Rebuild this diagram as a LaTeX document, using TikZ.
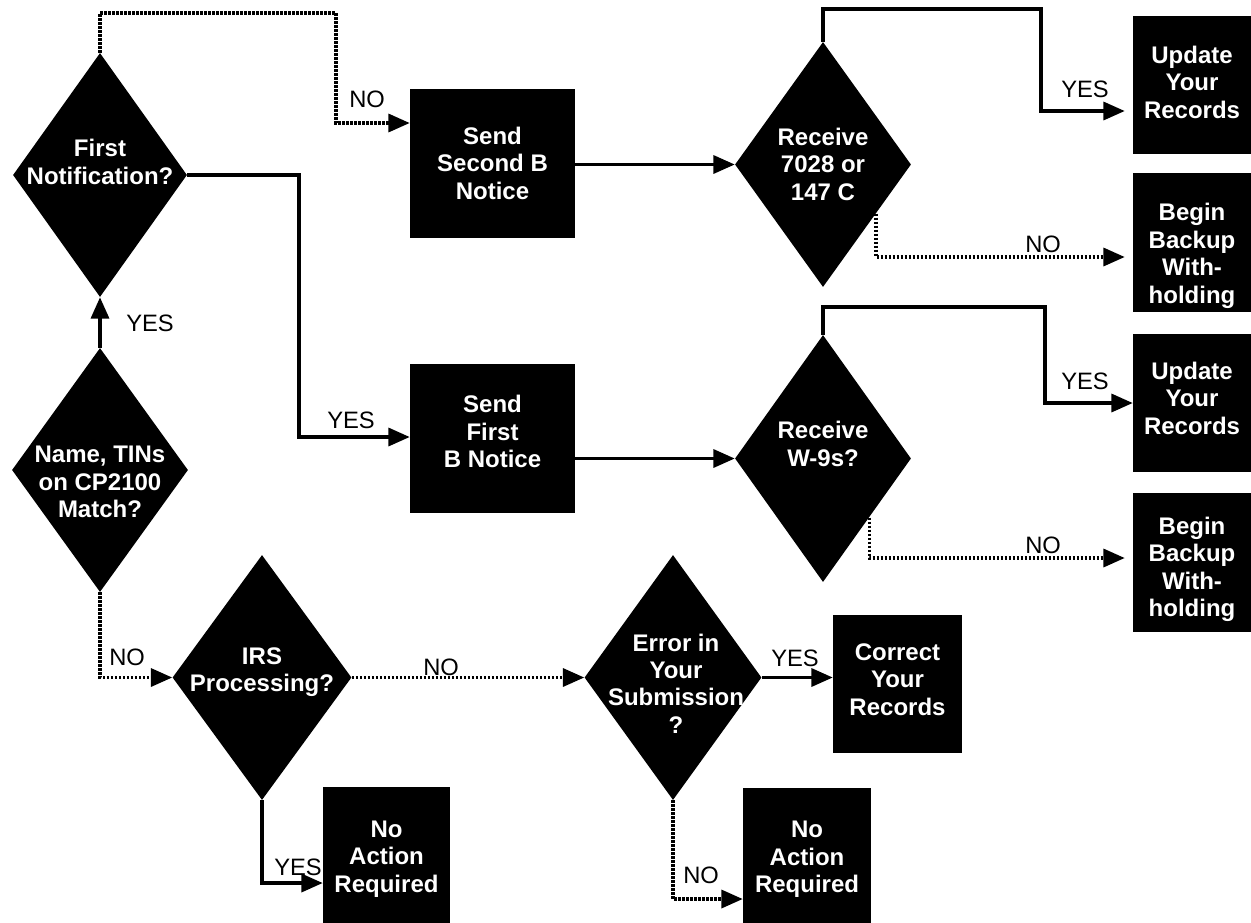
\documentclass[tikz,border=0pt]{standalone}
\usepackage{fontspec}
\setmainfont{Liberation Sans}
\usetikzlibrary{shapes.geometric,arrows.meta,calc}
\begin{document}
\begin{tikzpicture}[x=0.75pt,y=-0.75pt,
  dec/.style={diamond,fill=black,draw=none,inner sep=0pt,aspect=0.7},
  blk/.style={rectangle,fill=black,draw=none,inner sep=0pt},
  txt/.style={text=white,font=\bfseries\fontsize{18}{20.6}\selectfont,align=center,inner sep=0pt},
  lab/.style={font=\fontsize{17.8}{20}\selectfont,inner sep=0pt,anchor=base west},
  conn/.style={line width=2.5pt,line join=miter,-{Triangle[length=16pt,width=13.5pt]}},
  dconn/.style={conn,dash pattern=on 2pt off 1pt}]
\useasboundingbox (0,0) rectangle (1251,922);

% decisions
\node[dec,minimum width=130.5pt,minimum height=183pt] (fn) at (100,175) {};
\node[dec,minimum width=132pt,minimum height=183pt] (nm) at (100,470) {};
\node[dec,minimum width=132pt,minimum height=183.75pt] (r1) at (823,164.5) {};
\node[dec,minimum width=132pt,minimum height=185.25pt] (w9) at (823,458.5) {};
\node[dec,minimum width=134.25pt,minimum height=183.75pt] (irs) at (262,677.5) {};
\node[dec,minimum width=132.75pt,minimum height=183.75pt] (er) at (673,677.5) {};

% boxes
\node[blk,minimum width=123.75pt,minimum height=111.75pt] (sb) at (492.5,163.5) {};
\node[blk,minimum width=123.75pt,minimum height=111.75pt] (fb) at (492.5,438.5) {};
\node[blk,minimum width=88.5pt,minimum height=103.5pt] (up1) at (1192,85) {};
\node[blk,minimum width=88.5pt,minimum height=104.25pt] (bg1) at (1192,242.5) {};
\node[blk,minimum width=88.5pt,minimum height=103.5pt] (up2) at (1192,403) {};
\node[blk,minimum width=88.5pt,minimum height=104.25pt] (bg2) at (1192,562.5) {};
\node[blk,minimum width=96.75pt,minimum height=103.5pt] (cr) at (897.5,684) {};
\node[blk,minimum width=95.25pt,minimum height=107.25pt] (na1) at (386.5,858.5) {};
\node[blk,minimum width=96pt,minimum height=106.5pt] (na2) at (807,859) {};

% texts
\node[txt] (tfn) at (100,162) {First\\Notification?};
\node[txt] (tnm) at (100,482) {Name, TINs\\on CP2100\\Match?};
\node[txt] (tr1) at (823,164) {Receive\\7028 or\\147 C};
\node[txt] (tw9) at (823,444) {Receive\\W-9s?};
\node[txt] (tirs) at (262,672) {IRS\\Processing?};
\node[txt] (ter) at (676,683.5) {Error in\\Your\\Submission\\?};
\node[txt] (tsb) at (492.5,163) {Send\\Second B\\Notice};
\node[txt] (tfb) at (492.5,431.5) {Send\\First\\B Notice};
\node[txt] (tup1) at (1192,82) {Update\\Your\\Records};
\node[txt] (tbg1) at (1192,256) {Begin\\Backup\\With-\\holding};
\node[txt] (tup2) at (1192,398) {Update\\Your\\Records};
\node[txt] (tbg2) at (1192,569.5) {Begin\\Backup\\With-\\holding};
\node[txt] (tcr) at (897.5,679.5) {Correct\\Your\\Records};
\node[txt] (tna1) at (386.5,859) {No\\Action\\Required};
\node[txt] (tna2) at (807,859.5) {No\\Action\\Required};

% bend points
\coordinate (k1) at (336,13);
\coordinate (k2) at (336,123);
\coordinate (k3) at (299,437);
\coordinate (k4) at (1041,9);
\coordinate (k5) at (1041,111);
\coordinate (k6) at (1000,257);
\coordinate (k7) at (1045,307);
\coordinate (k8) at (1045,403);
\coordinate (k9) at (1000,558);
\coordinate (k10) at (0,883);
\coordinate (k11) at (0,899);

% connectors
\draw[dconn] (fn.north) |- (k1) -- (k2) -- (k2 -| sb.west);
\draw[conn] (fn.east) -| (k3) -- (k3 -| fb.west);
\draw[conn] (r1.west -| sb.east) -- (r1.west);
\draw[conn] (w9.west -| fb.east) -- (w9.west);
\draw[conn,shorten >=6pt] (r1.north) |- (k4) -- (k5) -- (k5 -| up1.west);
\draw[dconn,shorten >=6pt] ($(r1.east)!0.4!(r1.south)$) |- (k6 -| bg1.west);
\draw[conn] (w9.north) |- (k7) -- (k8) -- (k8 -| up2.west);
\draw[dconn,shorten >=6pt] ($(w9.east)!0.477!(w9.south)$) |- (k9 -| bg2.west);
\draw[conn] (nm.north) -- (fn.south);
\draw[dconn] (nm.south) |- (irs.west);
\draw[dconn] (irs.east) -- (er.west);
\draw[conn] (irs.south) |- (k10 -| na1.west);
\draw[conn] (er.east) -- (er.east -| cr.west);
\draw[dconn] (er.south) |- (k11 -| na2.west);

% labels
\node[lab] (l1) at (349,107) {NO};
\node[lab] (l2) at (327,428) {YES};
\node[lab] (l3) at (126,331) {YES};
\node[lab] (l4) at (1061,97) {YES};
\node[lab] (l5) at (1025,252) {NO};
\node[lab] (l6) at (1061,389) {YES};
\node[lab] (l7) at (1025,553) {NO};
\node[lab] (l8) at (109,665) {NO};
\node[lab] (l9) at (423,675) {NO};
\node[lab] (l10) at (274,875) {YES};
\node[lab] (l11) at (771,666) {YES};
\node[lab] (l12) at (683,883) {NO};
\end{tikzpicture}
\end{document}
